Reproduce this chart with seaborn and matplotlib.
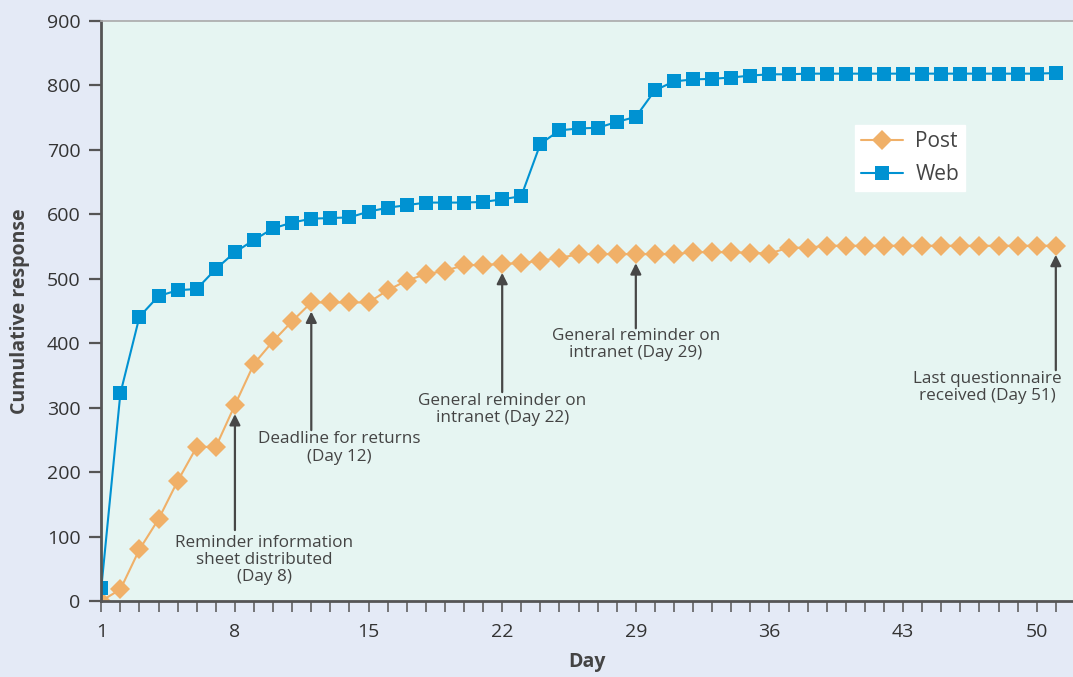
import numpy as np
import pandas as pd
import seaborn as sns
import matplotlib.pyplot as plt
from matplotlib.ticker import MultipleLocator, FixedLocator

days = list(range(1, 52))
post = [0, 18, 80, 127, 186, 239, 239, 304, 368, 403, 434, 463, 463, 463, 463,
        482, 497, 507, 512, 521, 521, 523, 524, 528, 532, 538, 538, 538, 538, 538,
        538, 541, 541, 541, 540, 539, 548, 548, 551, 551, 551, 551, 551, 551, 551,
        551, 551, 551, 551, 551, 551]
web = [20, 322, 441, 473, 482, 484, 515, 541, 560, 578, 587, 593, 594, 595, 604,
       610, 614, 618, 618, 618, 619, 623, 628, 709, 730, 733, 734, 743, 751, 792,
       806, 809, 810, 812, 815, 817, 817, 818, 818, 818, 818, 818, 818, 818, 818,
       818, 818, 818, 818, 818, 819]

ann_days = [8, 12, 22, 29, 51]
ann_labels = ["Reminder information\nsheet distributed\n(Day 8)",
              "Deadline for returns\n(Day 12)",
              "General reminder on\nintranet (Day 22)",
              "General reminder on\nintranet (Day 29)",
              "Last questionnaire\nreceived (Day 51)"]
# arrow tail / text placement (layout only)
ann_tail = [110, 265, 324, 423, 358]
ann_text_x = [9.55, 13.45, 22.0, 29.0, 47.4]
ann_text_y = [103, 263, 323, 424, 357]

sns.set_style("white")
plt.rcParams['font.family'] = ['Open Sans', 'DejaVu Sans']

df = pd.DataFrame({
    "Day": days * 2,
    "Response": post + web,
    "Mode": ["Post"] * len(days) + ["Web"] * len(days),
})

fig = plt.figure(figsize=(10.73, 6.77), dpi=100, facecolor="#e4eaf6")
ax = fig.add_axes([0.0944, 0.1123, 0.9056, 0.857])
ax.set_facecolor("#e6f5f2")

sns.lineplot(data=df, x="Day", y="Response", hue="Mode", style="Mode",
             markers={"Post": "D", "Web": "s"}, dashes=False,
             palette={"Post": "#f0b068", "Web": "#0092d2"},
             markersize=10, markeredgewidth=0, linewidth=1.5, ax=ax)

for d, lab, tail, tx, ty in zip(ann_days, ann_labels, ann_tail, ann_text_x, ann_text_y):
    tip = post[d - 1] - 14
    ax.annotate("", xy=(d, tip), xytext=(d, tail),
                arrowprops=dict(arrowstyle="-|>", color="#474747", lw=1.6,
                                mutation_scale=16, shrinkA=0, shrinkB=0))
    ax.text(tx, ty, lab, ha="center", va="top", fontsize=12.3,
            color="#444444", linespacing=1.1)

ax.set_xlim(1, 51.9)
ax.set_ylim(0, 900)
ax.xaxis.set_major_locator(FixedLocator([1, 8, 15, 22, 29, 36, 43, 50]))
ax.xaxis.set_minor_locator(MultipleLocator(1))
ax.yaxis.set_major_locator(MultipleLocator(100))
ax.tick_params(axis="both", which="both", direction="out", color="#555555",
               labelsize=14, labelcolor="#333333")
ax.tick_params(axis="x", which="both", length=8, width=1.1, bottom=True, pad=8)
ax.tick_params(axis="y", which="major", length=9, width=1.6, left=True, pad=6)

for s in ["left", "bottom"]:
    ax.spines[s].set_color("#555555")
    ax.spines[s].set_linewidth(2)
ax.spines["top"].set_color("#aaaaaa")
ax.spines["top"].set_linewidth(1.2)
ax.spines["right"].set_visible(False)

ax.set_xlabel("Day", fontsize=14, fontweight="bold", color="#444444", labelpad=8)
ax.set_ylabel("Cumulative response", fontsize=14, fontweight="bold",
              color="#444444", labelpad=12)

leg = ax.legend(loc="upper left", bbox_to_anchor=(0.765, 0.838), frameon=True,
                fontsize=15, fancybox=False, framealpha=1, edgecolor="white",
                handlelength=2.0, borderpad=0.3, labelspacing=0.55,
                handletextpad=0.6)
for t in leg.get_texts():
    t.set_color("#444444")

fig.savefig("out.png", dpi=100, facecolor=fig.get_facecolor())
